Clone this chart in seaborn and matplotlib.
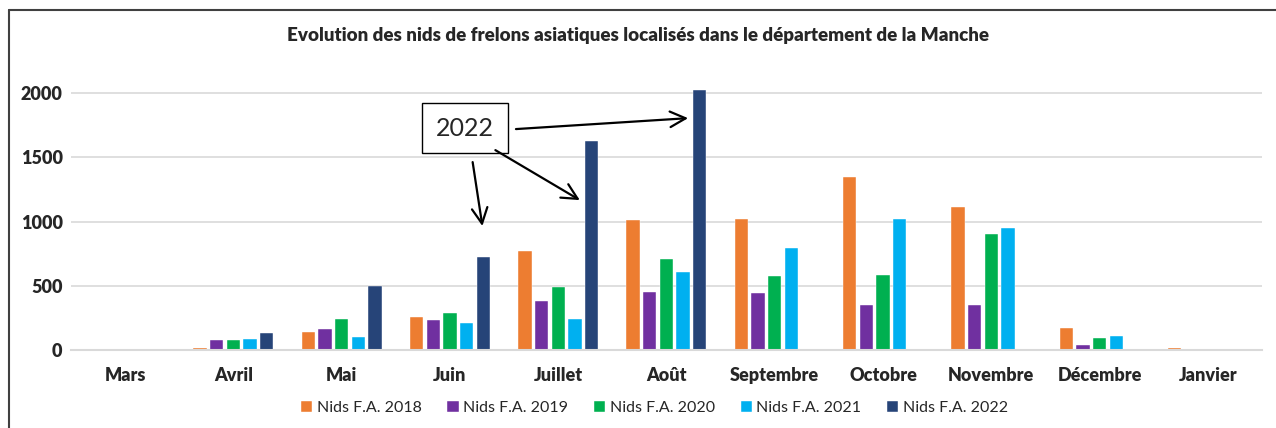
import matplotlib
matplotlib.use("Agg")
import matplotlib.pyplot as plt
import seaborn as sns
import pandas as pd
from matplotlib.lines import Line2D

mois = ["Mars", "Avril", "Mai", "Juin", "Juillet", "Août", "Septembre",
        "Octobre", "Novembre", "Décembre", "Janvier"]
series = ["Nids F.A. 2018", "Nids F.A. 2019", "Nids F.A. 2020",
          "Nids F.A. 2021", "Nids F.A. 2022"]
nids_2018 = [0, 13, 143, 257, 772, 1009, 1020, 1346, 1113, 168, 18]
nids_2019 = [2, 75, 166, 231, 379, 451, 440, 352, 347, 36, 2]
nids_2020 = [0, 81, 238, 285, 490, 708, 580, 582, 904, 96, 0]
nids_2021 = [4, 83, 99, 207, 239, 604, 795, 1020, 950, 106, 3]
nids_2022 = [4, 135, 500, 721, 1628, 2023, 0, 0, 0, 0, 0]
couleurs = ["#ED7D31", "#7030A0", "#00B050", "#00B0F0", "#264478"]
yticks = [0, 500, 1000, 1500, 2000]

rows = []
for s, vals in zip(series, [nids_2018, nids_2019, nids_2020, nids_2021, nids_2022]):
    for m, v in zip(mois, vals):
        rows.append({"Mois": m, "Série": s, "Nids": v})
df = pd.DataFrame(rows)

sns.set_theme(style="white")
plt.rcParams["font.family"] = ["Lato", "DejaVu Sans"]

fig = plt.figure(figsize=(12.76, 4.28), dpi=100)
ax = fig.add_axes([0.0556, 0.1822, 0.9334, 0.6753])

sns.barplot(data=df, x="Mois", y="Nids", hue="Série", order=mois,
            hue_order=series, palette=couleurs, saturation=1, width=0.77, gap=0.2,
            edgecolor="white", linewidth=0.3, ax=ax, legend=True)

ax.set_xlim(-0.5, len(mois) - 0.5)
ax.set_ylim(0, 2250)
ax.set_yticks(yticks)
ax.set_yticklabels([str(t) for t in yticks], fontsize=13, fontweight="heavy")
ax.set_xticks(range(len(mois)))
ax.set_xticklabels(mois, fontsize=13, fontweight="heavy")
ax.tick_params(axis="x", length=0, pad=12)
ax.tick_params(axis="y", length=0, pad=6)
ax.set_xlabel("")
ax.set_ylabel("")
ax.yaxis.grid(True, color="#D9D9D9", linewidth=1.2)
ax.set_axisbelow(True)
for sp in ["top", "right", "left"]:
    ax.spines[sp].set_visible(False)
ax.spines["bottom"].set_color("#D9D9D9")
ax.spines["bottom"].set_linewidth(1.5)

ax.legend(loc="center", bbox_to_anchor=(0.49, -0.2), ncol=5, frameon=False,
          fontsize=11.5, handlelength=0.7, handleheight=0.7, handletextpad=0.3,
          columnspacing=1.6)

fig.text(0.5, 0.918, "Evolution des nids de frelons asiatiques localisés dans le département de la Manche",
         ha="center", va="center", fontsize=13.5, fontweight="heavy")

# annotation box and arrows
ax.text(3.14, 1728, "2022", ha="center", va="center", fontsize=18,
        bbox=dict(boxstyle="square,pad=0.55", facecolor="white", edgecolor="black", linewidth=1))
arrow = dict(arrowstyle="->", lw=1.6, color="black", mutation_scale=28, shrinkA=0, shrinkB=0)
ax.annotate("", xy=(5.2, 1805), xytext=(3.61, 1720), arrowprops=arrow)
ax.annotate("", xy=(4.2, 1167), xytext=(3.42, 1556), arrowprops=arrow)
ax.annotate("", xy=(3.3, 965), xytext=(3.21, 1463), arrowprops=arrow)

# outer frame lines (top and left)
fig.add_artist(Line2D([9 / 1276, 1.0], [1 - 10 / 428, 1 - 10 / 428], color="#404040", lw=1.5))
fig.add_artist(Line2D([9 / 1276, 9 / 1276], [0, 1 - 10 / 428], color="#404040", lw=1.5))

fig.savefig("out.png", dpi=100)
